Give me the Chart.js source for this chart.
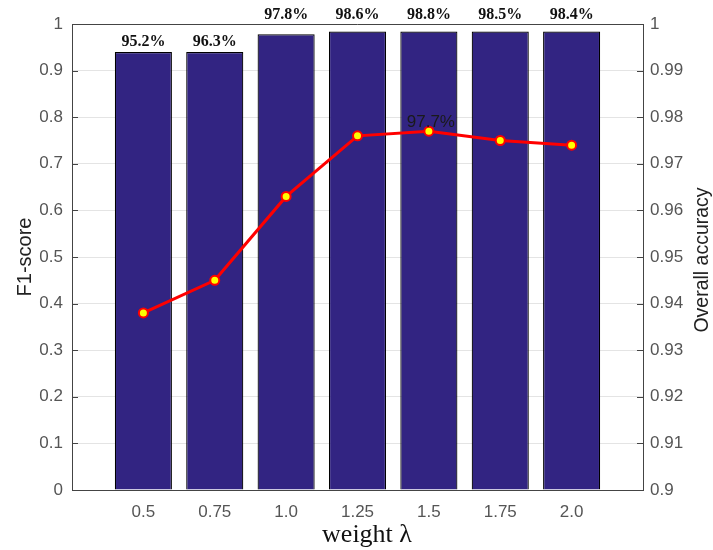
<!DOCTYPE html>
<html>
<head>
<meta charset="utf-8">
<script src="https://cdn.jsdelivr.net/npm/chart.js@4"></script>
<style>
  html, body { margin: 0; padding: 0; background: #fff; }
</style>
</head>
<body>
<canvas id="lambdaChart" width="713" height="550"></canvas>
<script>
// values
const weights = [0.5, 0.75, 1.0, 1.25, 1.5, 1.75, 2.0];
const weightLabels = ['0.5', '0.75', '1.0', '1.25', '1.5', '1.75', '2.0'];
const f1Scores = [0.940, 0.940, 0.978, 0.984, 0.984, 0.984, 0.984];
const f1Labels = ['95.2%', '96.3%', '97.8%', '98.6%', '98.8%', '98.5%', '98.4%'];
const accuracy = [0.938, 0.945, 0.963, 0.976, 0.977, 0.975, 0.974];
const accuracyLabels = ['', '', '', '', '97.7%', '', ''];
const f1Ticks = ['0', '0.1', '0.2', '0.3', '0.4', '0.5', '0.6', '0.7', '0.8', '0.9', '1'];
const accTicks = ['0.9', '0.91', '0.92', '0.93', '0.94', '0.95', '0.96', '0.97', '0.98', '0.99', '1'];

const tickFont = { family: 'Liberation Sans, Arial, sans-serif', size: 17 };
const tickColor = '#555';
const axisColor = '#444';

// labels, top border, inward ticks and the axis titles
const decorations = {
    id: 'decorations',
    afterDraw(chart) {
        const { ctx, chartArea } = chart;
        const { left, right, top } = chartArea;
        ctx.save();

        // top border of the box
        ctx.strokeStyle = axisColor;
        ctx.lineWidth = 1;
        ctx.beginPath();
        ctx.moveTo(left, top + 0.5);
        ctx.lineTo(right, top + 0.5);
        ctx.stroke();

        // inward tick marks on the y axes
        const yF1 = chart.scales.yF1;
        const yAcc = chart.scales.yAcc;
        ctx.beginPath();
        f1Ticks.forEach(t => {
            const y = Math.round(yF1.getPixelForValue(Number(t))) + 0.5;
            ctx.moveTo(left, y);
            ctx.lineTo(left + 6, y);
        });
        accTicks.forEach(t => {
            const y = Math.round(yAcc.getPixelForValue(Number(t))) + 0.5;
            ctx.moveTo(right, y);
            ctx.lineTo(right - 6, y);
        });
        ctx.stroke();

        // bar value labels
        const barMeta = chart.getDatasetMeta(1);
        ctx.fillStyle = '#111';
        ctx.font = 'bold 16px "Liberation Serif", "Times New Roman", serif';
        ctx.textAlign = 'center';
        ctx.textBaseline = 'alphabetic';
        barMeta.data.forEach((bar, i) => {
            let y = bar.y - 6;
            if (y - 12 < top) {
                y = top - 5;
            }
            ctx.fillText(f1Labels[i], bar.x, y);
        });

        // accuracy label
        const lineMeta = chart.getDatasetMeta(0);
        ctx.fillStyle = '#1a1a1a';
        ctx.font = '17px "Liberation Sans", Arial, sans-serif';
        lineMeta.data.forEach((pt, i) => {
            if (accuracyLabels[i]) {
                ctx.fillText(accuracyLabels[i], pt.x + 2, pt.y - 4);
            }
        });

        // axis titles
        ctx.fillStyle = '#222';
        ctx.textBaseline = 'middle';
        ctx.font = '20px "Liberation Sans", Arial, sans-serif';
        ctx.save();
        ctx.translate(25, 257);
        ctx.rotate(-Math.PI / 2);
        ctx.fillText('F1-score', 0, 0);
        ctx.restore();

        ctx.save();
        ctx.font = '19.5px "Liberation Sans", Arial, sans-serif';
        ctx.translate(703, 260);
        ctx.rotate(-Math.PI / 2);
        ctx.fillText('Overall accuracy', 0, 0);
        ctx.restore();

        ctx.fillStyle = '#111';
        ctx.font = '26px "Liberation Serif", "Times New Roman", serif';
        ctx.textBaseline = 'alphabetic';
        ctx.fillText('weight \u03bb', 367, 542);

        ctx.restore();
    }
};

const ctx = document.getElementById('lambdaChart');
new Chart(ctx, {
    data: {
        datasets: [
            {
                type: 'line',
                label: 'Overall accuracy',
                data: weights.map((w, i) => ({ x: w, y: accuracy[i] })),
                yAxisID: 'yAcc',
                borderColor: '#ff0000',
                borderWidth: 3,
                pointRadius: 4.5,
                pointBorderWidth: 2,
                pointBackgroundColor: '#ffff00',
                pointBorderColor: '#ff0000',
                order: 0
            },
            {
                type: 'bar',
                label: 'F1-score',
                data: weights.map((w, i) => ({ x: w, y: f1Scores[i] })),
                yAxisID: 'yF1',
                backgroundColor: '#322482',
                borderColor: '#000',
                borderWidth: 1.2,
                barPercentage: 0.8,
                categoryPercentage: 1,
                order: 1
            }
        ]
    },
    options: {
        responsive: false,
        animation: false,
        layout: { padding: { top: 24, left: 0, right: 0, bottom: 0 } },
        plugins: {
            legend: { display: false },
            tooltip: { enabled: false }
        },
        scales: {
            x: {
                type: 'linear',
                min: 0.25,
                max: 2.25,
                offset: false,
                afterBuildTicks: s => { s.ticks = weights.map(v => ({ value: v })); },
                afterFit: s => { s.height = 60; },
                ticks: {
                    callback: (v, i) => weightLabels[i],
                    autoSkip: false,
                    maxRotation: 0,
                    padding: 12,
                    font: tickFont,
                    color: tickColor
                },
                grid: { drawOnChartArea: false, drawTicks: false, offset: false },
                border: { color: axisColor, width: 1 }
            },
            yF1: {
                type: 'linear',
                position: 'left',
                min: 0,
                max: 1,
                afterBuildTicks: s => { s.ticks = f1Ticks.map(t => ({ value: Number(t) })); },
                afterFit: s => { s.width = 72; },
                ticks: {
                    callback: (v, i) => f1Ticks[i],
                    padding: 9,
                    font: tickFont,
                    color: tickColor
                },
                grid: { color: '#e4e4e4', drawTicks: false },
                border: { color: axisColor, width: 1 }
            },
            yAcc: {
                type: 'linear',
                position: 'right',
                min: 0.9,
                max: 1,
                afterBuildTicks: s => { s.ticks = accTicks.map(t => ({ value: Number(t) })); },
                afterFit: s => { s.width = 70; },
                ticks: {
                    callback: (v, i) => accTicks[i],
                    padding: 7,
                    font: tickFont,
                    color: tickColor
                },
                grid: { drawOnChartArea: false, drawTicks: false },
                border: { color: axisColor, width: 1 }
            }
        }
    },
    plugins: [decorations]
});
</script>
</body>
</html>
